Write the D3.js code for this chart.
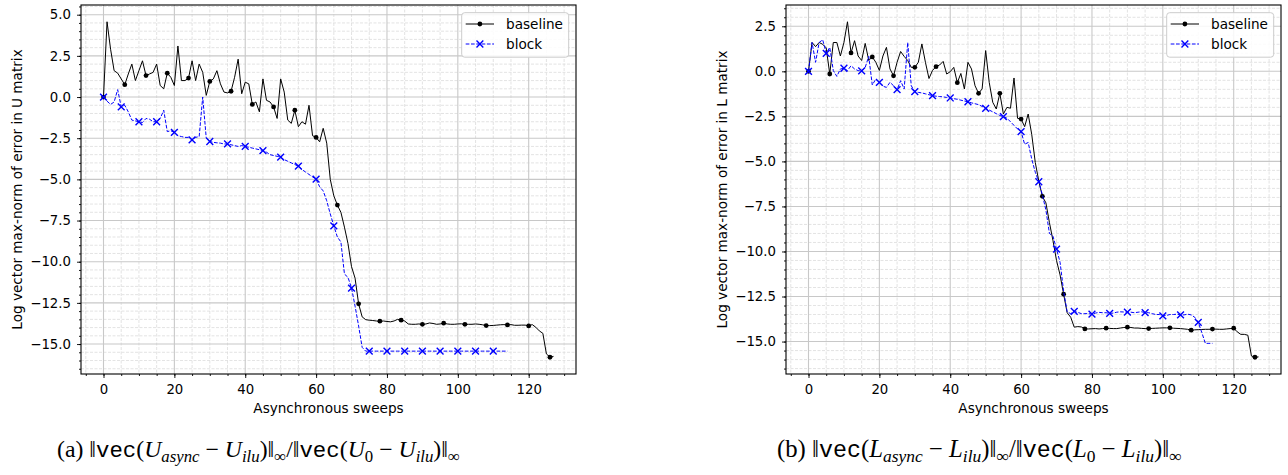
<!DOCTYPE html>
<html>
<head>
<meta charset="utf-8">
<script src="https://cdn.jsdelivr.net/npm/d3@7"></script>
<style>
  html, body { margin: 0; padding: 0; background: #fff; }
  svg { display: block; font-family: "DejaVu Sans", sans-serif; }
</style>
</head>
<body>
<svg id="fig" width="1288" height="475"></svg>
<script>
// log10 of relative max-norm error per asynchronous sweep (index = sweep)
const uBaseline = [
  0, 4.57, 2.9, 1.6, 1.45, 1.1, 0.75, 1.4, 2.0, 1.0,
  1.6, 2.2, 1.3, 1.4, 1.5, 2.0, 0.7, 0.5, 1.45, 1.2,
  0.7, 3.1, 1.0, 1.0, 1.15, 2.2, 1.0, 2.0, 1.5, 0.1,
  0.95, 1.1, 1.6, 0.8, 0.3, 0.25, 0.35, 1.2, 2.3, 0.2,
  0.9, 0.8, -0.45, -0.3, -0.9, 1.1, -0.2, -0.3, -0.6, -1.3,
  1.1, 0.3, -1.4, -1.6, -0.8, -1.8, -1.5, -1.65, -0.5, -2.35,
  -2.45, -2.72, -1.9, -2.8, -5.0, -6.0, -6.56, -7.0, -7.9, -8.9,
  -10.3, -11.0, -12.56, -13.35, -13.52, -13.55, -13.57, -13.6, -13.61, -13.6,
  -13.63, -13.65, -13.6, -13.5, -13.55, -13.6, -13.78, -13.8, -13.8, -13.78,
  -13.8, -13.78, -13.72, -13.75, -13.8, -13.78, -13.73, -13.78, -13.8, -13.8,
  -13.78, -13.77, -13.8, -13.8, -13.8, -13.78, -13.8, -13.83, -13.88, -13.88,
  -13.87, -13.85, -13.83, -13.82, -13.84, -13.82, -13.86, -13.86, -13.85, -13.85,
  -13.9, -13.82, -13.98, -14.2, -14.35, -15.6, -15.8, -15.75
];
const uBlock = [
  0, -0.25, -0.45, -0.3, 0.45, -0.6, -0.5, -0.9, -1.4, -1.45,
  -1.5, -1.55, -1.3, -1.35, -1.5, -1.5, -1.3, -0.8, -2.1, -2.05,
  -2.15, -2.35, -2.4, -2.45, -2.45, -2.6, -2.45, -2.4, 0.0, -2.5,
  -2.7, -2.75, -2.78, -2.8, -2.85, -2.85, -2.9, -2.95, -3.0, -2.95,
  -3.0, -3.05, -3.1, -3.15, -3.2, -3.25, -3.35, -3.5, -3.55, -3.6,
  -3.65, -3.8, -3.9, -4.0, -4.1, -4.2, -4.4, -4.55, -4.7, -4.85,
  -4.99, -5.45, -5.7, -6.3, -7.1, -7.82, -8.5, -8.8, -10.75, -10.95,
  -11.6, -12.7, -13.9, -15.2, -15.43, -15.43, -15.43, -15.43, -15.43, -15.43,
  -15.43, -15.43, -15.43, -15.43, -15.43, -15.43, -15.43, -15.43, -15.43, -15.43,
  -15.43, -15.43, -15.43, -15.43, -15.43, -15.43, -15.43, -15.43, -15.43, -15.43,
  -15.43, -15.43, -15.43, -15.43, -15.43, -15.43, -15.43, -15.43, -15.43, -15.43,
  -15.43, -15.43, -15.43, -15.43, -15.43
];
const lBaseline = [
  0, 1.6, 1.37, 1.6, 1.5, 1.3, -0.15, 1.6, 1.6, 0.85,
  1.6, 2.75, 1.02, 1.7, 0.85, 0.6, 1.55, 0.6, 0.8, 0.5,
  0.05, 0.85, 1.33, 0.13, -0.25, 0.5, 1.1, 0.83, 0.6, 0.22,
  0.22, 0.5, 1.52, 0.5, -0.4, 0.05, 0.26, 0.35, 0.55, -0.15,
  -0.02, 0.22, -0.63, -0.12, -0.98, 0.5, 0.13, -0.8, -1.22, -0.98,
  1.15, -0.61, -1.72, -2.09, -1.22, -2.37, -2.0, -2.05, -0.37, -2.61,
  -2.65, -3.07, -2.37, -3.5, -5.06, -6.1, -6.94, -7.3, -8.4, -9.4,
  -10.5, -11.3, -12.37, -13.4, -13.65, -14.2, -14.17, -14.19, -14.3, -14.3,
  -14.29, -14.28, -14.3, -14.28, -14.26, -14.27, -14.28, -14.28, -14.25, -14.22,
  -14.2, -14.22, -14.25, -14.25, -14.27, -14.28, -14.28, -14.27, -14.26, -14.25,
  -14.24, -14.24, -14.24, -14.26, -14.27, -14.28, -14.3, -14.32, -14.37, -14.35,
  -14.34, -14.33, -14.32, -14.32, -14.31, -14.31, -14.32, -14.32, -14.3, -14.28,
  -14.26, -14.46, -14.6, -14.6, -14.65, -15.8, -15.87, -15.85
];
const lBlock = [
  0, 1.6, 0.5, 1.6, 1.75, 1.0, 1.33, 0.04, -0.28, 0.13,
  0.17, 0.04, 0.31, 0.13, 0.04, 0.02, 0.22, 0.83, -0.76, -0.43,
  -0.61, -0.83, -0.89, -0.61, -0.8, -1.02, -0.52, -0.98, 1.6, -0.8,
  -1.13, -1.17, -1.2, -1.25, -1.3, -1.35, -1.38, -1.4, -1.42, -1.45,
  -1.48, -1.52, -1.55, -1.6, -1.65, -1.69, -1.75, -1.8, -1.85, -1.95,
  -2.06, -2.15, -2.25, -2.35, -2.45, -2.52, -2.6, -2.8, -3.0, -3.2,
  -3.35, -4.05, -3.95, -4.87, -5.6, -6.13, -6.85, -7.7, -9.0, -9.15,
  -9.87, -10.6, -12.2, -13.35, -13.45, -13.33, -13.38, -13.45, -13.45, -13.45,
  -13.48, -13.42, -13.38, -13.4, -13.4, -13.44, -13.42, -13.37, -13.35, -13.36,
  -13.37, -13.37, -13.4, -13.37, -13.35, -13.39, -13.4, -13.45, -13.5, -13.5,
  -13.57, -13.55, -13.5, -13.5, -13.48, -13.52, -13.52, -13.48, -13.52, -13.65,
  -13.94, -14.5, -15.1, -15.1, -15.1
];

const xTicks = [0, 20, 40, 60, 80, 100, 120];
const uYTicks = [-15, -12.5, -10, -7.5, -5, -2.5, 0, 2.5, 5];
const lYTicks = [-15, -12.5, -10, -7.5, -5, -2.5, 0, 2.5];
const seriesNames = ["baseline", "block"];
const xLabel = "Asynchronous sweeps";

const svg = d3.select("#fig");
svg.append("rect").attr("width", 1288).attr("height", 475).attr("fill", "#fff");

function pad(lo, hi) {
  const m = (hi - lo) * 0.05;
  return [lo - m, hi + m];
}

function drawPanel(p) {
  const { left, right, top, bottom } = p.box;
  const g = svg.append("g");

  const n = Math.max(p.baseline.length, p.block.length);
  const all = p.baseline.concat(p.block);
  const x = d3.scaleLinear().domain(pad(0, n - 1)).range([left, right]);
  const y = d3.scaleLinear().domain(pad(d3.min(all), d3.max(all))).range([bottom, top]);

  const [x0, x1] = x.domain();
  const [y0, y1] = y.domain();
  const xMinor = d3.range(Math.ceil(x0 / 5) * 5, x1, 5);
  const yMinor = d3.range(Math.ceil(y0 / 0.5) * 0.5, y1, 0.5);

  // minor grid
  const grid = g.append("g");
  grid.selectAll(".mx").data(xMinor.filter(v => v % 20 !== 0)).join("line")
    .attr("x1", d => x(d)).attr("x2", d => x(d)).attr("y1", top).attr("y2", bottom)
    .attr("stroke", "#dcdcdc").attr("stroke-width", 0.8).attr("stroke-dasharray", "3,1.5");
  grid.selectAll(".my").data(yMinor.filter(v => Math.abs(v % 2.5) > 1e-9)).join("line")
    .attr("y1", d => y(d)).attr("y2", d => y(d)).attr("x1", left).attr("x2", right)
    .attr("stroke", "#dcdcdc").attr("stroke-width", 0.8).attr("stroke-dasharray", "3,1.5");
  // major grid
  grid.selectAll(".gx").data(xTicks).join("line")
    .attr("x1", d => x(d)).attr("x2", d => x(d)).attr("y1", top).attr("y2", bottom)
    .attr("stroke", "#c8c8c8").attr("stroke-width", 1.1);
  grid.selectAll(".gy").data(p.yTicks).join("line")
    .attr("y1", d => y(d)).attr("y2", d => y(d)).attr("x1", left).attr("x2", right)
    .attr("stroke", "#c8c8c8").attr("stroke-width", 1.1);

  // axes
  const fmt = d3.format(".1f");
  const ax = g.append("g").attr("transform", `translate(0,${bottom})`)
    .call(d3.axisBottom(x).tickValues(xTicks).tickSize(4).tickPadding(7).tickSizeOuter(0));
  g.append("g").attr("transform", `translate(0,${bottom})`)
    .call(d3.axisBottom(x).tickValues(xMinor).tickSize(2).tickFormat("").tickSizeOuter(0))
    .select(".domain").remove();
  const ay = g.append("g").attr("transform", `translate(${left},0)`)
    .call(d3.axisLeft(y).tickValues(p.yTicks).tickFormat(fmt).tickSize(4).tickPadding(6).tickSizeOuter(0));
  g.append("g").attr("transform", `translate(${left},0)`)
    .call(d3.axisLeft(y).tickValues(yMinor).tickSize(2).tickFormat("").tickSizeOuter(0))
    .select(".domain").remove();
  g.selectAll(".tick line").attr("stroke", "#000").attr("stroke-width", 0.9);
  [ax, ay].forEach(a => {
    a.select(".domain").remove();
    a.selectAll("text").attr("font-size", 13.3).attr("fill", "#000")
      .attr("font-family", "DejaVu Sans");
  });

  // series
  const line = d3.line().x((d, i) => x(i)).y(d => y(d));
  g.append("path").datum(p.baseline).attr("d", line)
    .attr("fill", "none").attr("stroke", "#000").attr("stroke-width", 1);
  g.append("g").selectAll("circle").data(p.baseline.map((v, i) => [i, v]).filter(d => d[0] % 6 === 0))
    .join("circle").attr("cx", d => x(d[0])).attr("cy", d => y(d[1])).attr("r", 2.4).attr("fill", "#000");

  g.append("path").datum(p.block).attr("d", line)
    .attr("fill", "none").attr("stroke", "#0000ff").attr("stroke-width", 1).attr("stroke-dasharray", "3.7,1.6");
  const cross = (cx, cy, s) => `M${cx - s},${cy - s}L${cx + s},${cy + s}M${cx - s},${cy + s}L${cx + s},${cy - s}`;
  g.append("g").selectAll("path").data(p.block.map((v, i) => [i, v]).filter(d => d[0] % 5 === 0))
    .join("path").attr("d", d => cross(x(d[0]), y(d[1]), 3.4))
    .attr("stroke", "#0000ff").attr("stroke-width", 1.4).attr("fill", "none");

  // frame
  g.append("rect").attr("x", left).attr("y", top).attr("width", right - left).attr("height", bottom - top)
    .attr("fill", "none").attr("stroke", "#000").attr("stroke-width", 1.1);

  // labels
  g.append("text").attr("x", (left + right) / 2).attr("y", 413)
    .attr("text-anchor", "middle").attr("font-size", 13.6).text(xLabel);
  const ylx = left - 59.5, yly = (top + bottom) / 2;
  g.append("text").attr("x", ylx).attr("y", yly)
    .attr("transform", `rotate(-90,${ylx},${yly})`)
    .attr("text-anchor", "middle").attr("font-size", 13.6).text(p.yLabel);

  // legend
  const lw = 107, lh = 44.5, lx = right - 7.3 - lw, ly = top + 7.7;
  const lg = g.append("g");
  lg.append("rect").attr("x", lx).attr("y", ly).attr("width", lw).attr("height", lh).attr("rx", 3)
    .attr("fill", "#fff").attr("fill-opacity", 0.85).attr("stroke", "#cccccc").attr("stroke-width", 1);
  const r1 = ly + 11.3, r2 = ly + 31.3;
  lg.append("line").attr("x1", lx + 4).attr("x2", lx + 32.3).attr("y1", r1).attr("y2", r1)
    .attr("stroke", "#000").attr("stroke-width", 1);
  lg.append("circle").attr("cx", lx + 18.2).attr("cy", r1).attr("r", 2.4).attr("fill", "#000");
  lg.append("line").attr("x1", lx + 4).attr("x2", lx + 32.3).attr("y1", r2).attr("y2", r2)
    .attr("stroke", "#0000ff").attr("stroke-width", 1).attr("stroke-dasharray", "3.7,1.6");
  lg.append("path").attr("d", cross(lx + 18.2, r2, 3.4))
    .attr("stroke", "#0000ff").attr("stroke-width", 1.4).attr("fill", "none");
  lg.selectAll("text").data(seriesNames).join("text")
    .attr("x", lx + 44.3).attr("y", (d, i) => (i ? r2 : r1) + 4.9)
    .attr("font-size", 13.6).text(d => d);
}

function caption(tag, M, x0, width) {
  const t = svg.append("text").attr("x", 0).attr("y", 0)
    .attr("font-family", "Liberation Serif, serif").attr("font-weight", "normal").attr("font-size", 17);
  const parts = [
    [`(${tag}) `], ["\u2016"], ["vec", "mono"], ["("], [M, "it"], ["async", "sub"],
    [" \u2212 "], [M, "it"], ["ilu", "sub"], [")\u2016"], ["\u221e", "subr"],
    ["/\u2016"], ["vec", "mono"], ["("], [M, "it"], ["0", "subr"],
    [" \u2212 "], [M, "it"], ["ilu", "sub"], [")\u2016"], ["\u221e", "subr"]
  ];
  parts.forEach(([s, k]) => {
    const sp = t.append("tspan").text(s).attr("y", k && k.startsWith("sub") ? 3.5 : 0);
    if (k === "it" || k === "sub") sp.attr("font-style", "italic");
    if (k === "sub" || k === "subr") sp.attr("font-size", 12);
    if (k === "mono") sp.attr("font-family", "Liberation Mono, monospace").attr("font-size", 16);
  });
  const bb = t.node().getBBox();
  const k = width / bb.width;
  t.attr("transform", `translate(${x0 - bb.x * k},457) scale(${k})`);
}

drawPanel({
  box: { left: 81, right: 576, top: 5, bottom: 374 },
  baseline: uBaseline, block: uBlock, yTicks: uYTicks,
  yLabel: "Log vector max-norm of error in U matrix"
});
drawPanel({
  box: { left: 786, right: 1281, top: 5, bottom: 374 },
  baseline: lBaseline, block: lBlock, yTicks: lYTicks,
  yLabel: "Log vector max-norm of error in L matrix"
});
caption("a", "U", 57, 403);
caption("b", "L", 777, 405);
</script>
</body>
</html>
